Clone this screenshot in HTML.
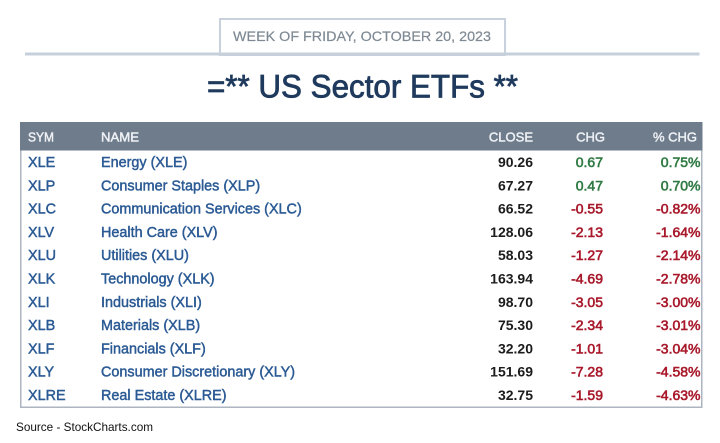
<!DOCTYPE html>
<html><head><meta charset="utf-8">
<style>
html,body{margin:0;padding:0;background:#fff;}
svg{display:block;}
text{font-family:"Liberation Sans",Arial,sans-serif;}
</style></head>
<body>
<svg width="720" height="443" viewBox="0 0 720 443" xmlns="http://www.w3.org/2000/svg">
<rect width="720" height="443" fill="#fff"/>
<!-- date box -->
<rect x="220" y="19" width="285" height="36" fill="#fff" stroke="#c9d2dc" stroke-width="2"/>
<rect x="25" y="52.5" width="674.5" height="3" fill="#c6d0db"/>
<text x="233" y="40.8" font-size="14" fill="#7f8993" stroke="#7f8993" stroke-width="0.2" textLength="258" lengthAdjust="spacingAndGlyphs">WEEK OF FRIDAY, OCTOBER 20, 2023</text>
<!-- title -->
<text x="207" y="97.3" font-size="32" fill="#1f3a5d" stroke="#1f3a5d" stroke-width="0.8" textLength="311" lengthAdjust="spacingAndGlyphs">=** US Sector ETFs **</text>
<!-- table -->
<rect x="20.75" y="122.75" width="681" height="284.5" fill="#fff" stroke="#adb6c0" stroke-width="1.5"/>
<rect x="20" y="122" width="682.5" height="28.5" fill="#6f7c8b"/>
<g font-size="13" fill="#eef1f5" stroke="#eef1f5" stroke-width="0.45">
<text x="28" y="141.6" textLength="26" lengthAdjust="spacingAndGlyphs">SYM</text>
<text x="101" y="141.6" textLength="38" lengthAdjust="spacingAndGlyphs">NAME</text>
<text x="533" y="141.6" text-anchor="end">CLOSE</text>
<text x="605" y="141.6" text-anchor="end">CHG</text>
<text x="697" y="141.6" text-anchor="end">% CHG</text>
</g>
<g font-size="14.4" fill="#2b5a94" stroke="#2b5a94" stroke-width="0.45">
<text x="28" y="167">XLE</text><text x="101" y="167">Energy (XLE)</text>
<text x="28" y="190.3">XLP</text><text x="101" y="190.3">Consumer Staples (XLP)</text>
<text x="28" y="213.6">XLC</text><text x="101" y="213.6">Communication Services (XLC)</text>
<text x="28" y="236.9">XLV</text><text x="101" y="236.9">Health Care (XLV)</text>
<text x="28" y="260.2">XLU</text><text x="101" y="260.2">Utilities (XLU)</text>
<text x="28" y="283.5">XLK</text><text x="101" y="283.5">Technology (XLK)</text>
<text x="28" y="306.8">XLI</text><text x="101" y="306.8">Industrials (XLI)</text>
<text x="28" y="330.1">XLB</text><text x="101" y="330.1">Materials (XLB)</text>
<text x="28" y="353.4">XLF</text><text x="101" y="353.4">Financials (XLF)</text>
<text x="28" y="376.7">XLY</text><text x="101" y="376.7">Consumer Discretionary (XLY)</text>
<text x="28" y="400">XLRE</text><text x="101" y="400">Real Estate (XLRE)</text>
</g>
<g font-size="14" font-weight="bold" fill="#1c1c1c" text-anchor="end">
<text x="533" y="167">90.26</text>
<text x="533" y="190.3">67.27</text>
<text x="533" y="213.6">66.52</text>
<text x="533" y="236.9">128.06</text>
<text x="533" y="260.2">58.03</text>
<text x="533" y="283.5">163.94</text>
<text x="533" y="306.8">98.70</text>
<text x="533" y="330.1">75.30</text>
<text x="533" y="353.4">32.20</text>
<text x="533" y="376.7">151.69</text>
<text x="533" y="400">32.75</text>
</g>
<g font-size="14" fill="#2f7a43" stroke="#2f7a43" stroke-width="0.6" text-anchor="end">
<text x="603" y="167">0.67</text><text x="700.5" y="167">0.75%</text>
<text x="603" y="190.3">0.47</text><text x="700.5" y="190.3">0.70%</text>
</g>
<g font-size="14" fill="#a8192b" stroke="#a8192b" stroke-width="0.6" text-anchor="end">
<text x="603" y="213.6">-0.55</text><text x="700.5" y="213.6">-0.82%</text>
<text x="603" y="236.9">-2.13</text><text x="700.5" y="236.9">-1.64%</text>
<text x="603" y="260.2">-1.27</text><text x="700.5" y="260.2">-2.14%</text>
<text x="603" y="283.5">-4.69</text><text x="700.5" y="283.5">-2.78%</text>
<text x="603" y="306.8">-3.05</text><text x="700.5" y="306.8">-3.00%</text>
<text x="603" y="330.1">-2.34</text><text x="700.5" y="330.1">-3.01%</text>
<text x="603" y="353.4">-1.01</text><text x="700.5" y="353.4">-3.04%</text>
<text x="603" y="376.7">-7.28</text><text x="700.5" y="376.7">-4.58%</text>
<text x="603" y="400">-1.59</text><text x="700.5" y="400">-4.63%</text>
</g>
<text x="16" y="431" font-size="12" fill="#111" textLength="137" lengthAdjust="spacingAndGlyphs">Source - StockCharts.com</text>
</svg>
</body></html>
